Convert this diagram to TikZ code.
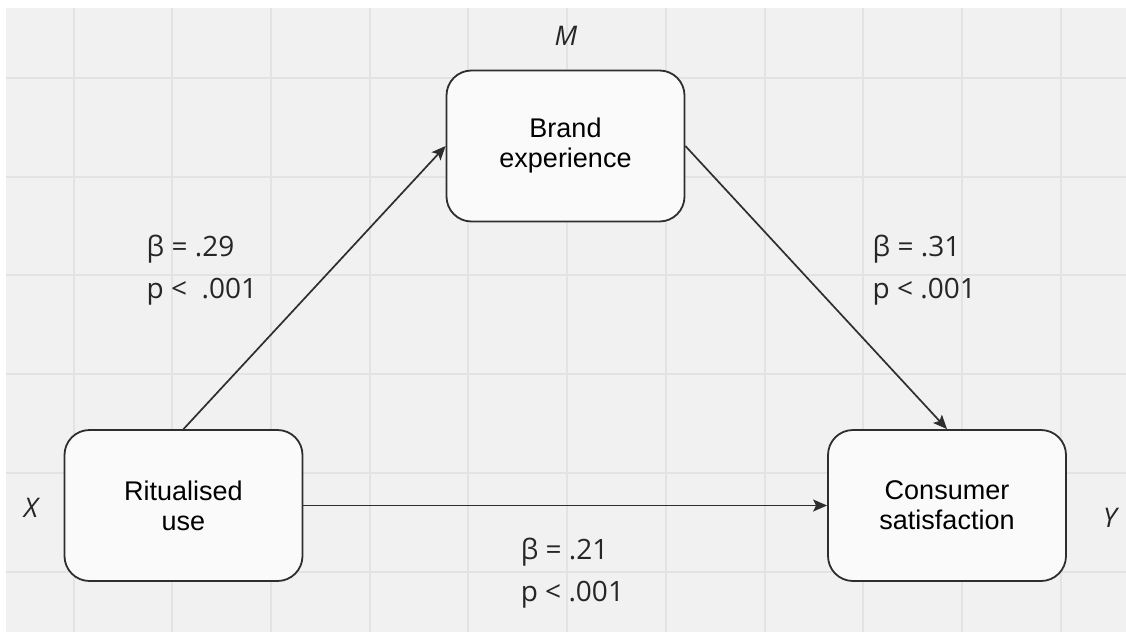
\documentclass[tikz,border=0pt]{standalone}
\usepackage{fontspec}
\setmainfont{Liberation Sans}
\newfontfamily\lblfont{Open Sans}
\usetikzlibrary{arrows.meta}
\definecolor{bgc}{HTML}{F1F1F1}
\definecolor{gridc}{HTML}{E3E3E3}
\definecolor{linec}{HTML}{2E2E2E}
\definecolor{boxfill}{HTML}{FAFAFA}
\begin{document}
\begin{tikzpicture}[x=1pt,y=-1pt,
  box/.style={draw=linec, line width=1.8pt, fill=boxfill, rounded corners=25pt,
    minimum width=238pt, minimum height=151pt, align=center, inner sep=0pt,
    font=\fontsize{27}{30}\selectfont},
  conn/.style={draw=linec, line width=1.7pt, -{Stealth[length=14pt,width=12pt,inset=3pt]}},
  lbl/.style={font=\lblfont\fontsize{28}{30}\selectfont, anchor=base west, inner sep=0pt, text=black!85},
  var/.style={font=\lblfont\itshape\fontsize{27}{30}\selectfont, anchor=base, inner sep=0pt, text=black!85}]
\useasboundingbox (0,0) rectangle (1126,632);
\fill[white] (0,0) rectangle (1126,632);
\fill[bgc] (6,8) rectangle (1126,632);
\foreach \i in {0,...,10} \draw[gridc, line width=2pt] ({73.6+98.7*\i},8) -- ({73.6+98.7*\i},632);
\foreach \i in {0,...,5} \draw[gridc, line width=2pt] (6,{78+98.7*\i}) -- (1126,{78+98.7*\i});

\node[box] (x) at (183.5,505.5) {Ritualised\\use};
\node[box] (m) at (565.5,146) {Brand\\experience};
\node[box] (y) at (947,505.5) {Consumer\\satisfaction};

\draw[conn] (x.north) -- (m.west);
\draw[conn] (m.east) -- (y.north);
\draw[conn] (x.east) -- (y.west);

\node[var] (vm) at (566,45) {M};
\node[var] (vx) at (31,517.7) {X};
\node[var] (vy) at (1110,527.7) {Y};

\node[lbl] (a1) at (146.5,256.7) {β = .29};
\node[lbl] (a2) at (146.5,298) {p <\ \ .001};
\node[lbl] (b1) at (872.5,256.7) {β = .31};
\node[lbl] (b2) at (872.5,298) {p < .001};
\node[lbl] (c1) at (520.6,559.3) {β = .21};
\node[lbl] (c2) at (520.6,601) {p < .001};
\end{tikzpicture}
\end{document}
